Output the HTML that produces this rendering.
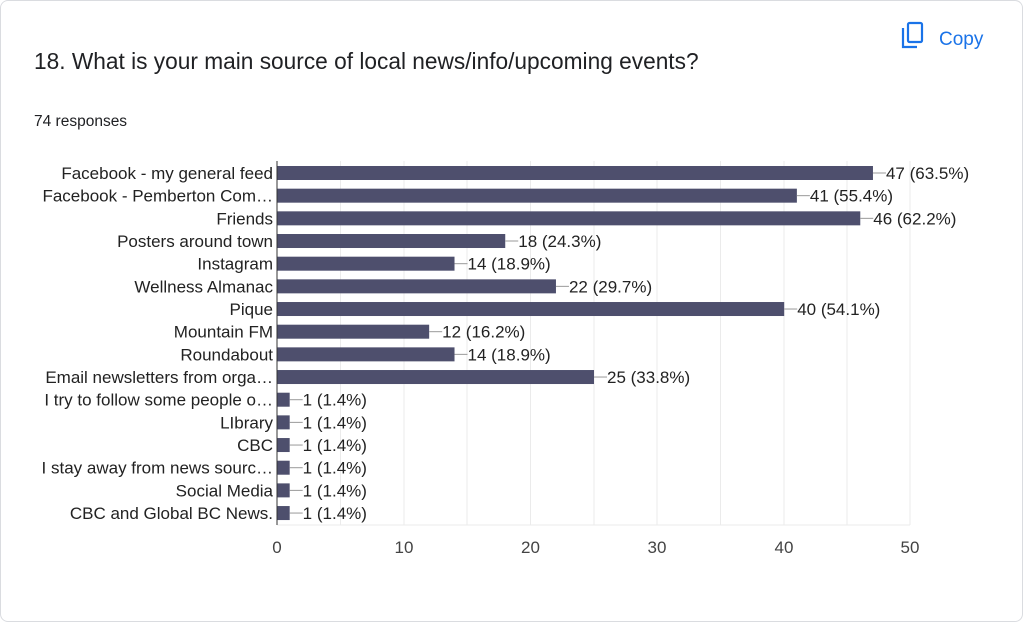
<!DOCTYPE html>
<html><head><style>
body{margin:0;width:1023px;height:609px;background:#fff;overflow:hidden;font-family:"Liberation Sans",Arial,sans-serif}
.card{position:absolute;left:0;top:0;width:1021px;height:620px;border:1px solid #dadce0;border-radius:8px;}
</style></head><body>
<div class="card"></div>
<svg width="1023" height="609" style="position:absolute;left:0;top:0" font-family="Liberation Sans, Arial, sans-serif">
<g fill="none" stroke="#1a73e8" stroke-width="2.2">
<rect x="908" y="23" width="14" height="19" rx="1.5"/>
<path d="M903 28 v19 h14"/>
</g>
<text x="939" y="45" font-size="19" fill="#1a73e8">Copy</text>
<text x="34" y="69" font-size="22.7" fill="#202124">18. What is your main source of local news/info/upcoming events?</text>
<text x="34" y="126" font-size="15.5" fill="#202124">74 responses</text>
<g stroke="#ebebeb" stroke-width="1">
<line x1="340.5" y1="161" x2="340.5" y2="525"/><line x1="404" y1="161" x2="404" y2="525"/>
<line x1="467" y1="161" x2="467" y2="525"/><line x1="530.5" y1="161" x2="530.5" y2="525"/>
<line x1="594" y1="161" x2="594" y2="525"/><line x1="657" y1="161" x2="657" y2="525"/>
<line x1="720.5" y1="161" x2="720.5" y2="525"/><line x1="784" y1="161" x2="784" y2="525"/>
<line x1="847" y1="161" x2="847" y2="525"/><line x1="910" y1="161" x2="910" y2="525"/>
<line x1="277" y1="525" x2="910" y2="525"/>
</g>
<g id="bars"></g>
<line x1="277" y1="161" x2="277" y2="525" stroke="#333" stroke-width="1"/>
<g font-size="17" fill="#444" text-anchor="middle">
<text x="277" y="553">0</text><text x="404" y="553">10</text><text x="530.5" y="553">20</text><text x="657" y="553">30</text><text x="784" y="553">40</text><text x="910" y="553">50</text>
</g>
</svg>
<script>
var d=[["Facebook - my general feed",47,"63.5"],["Facebook - Pemberton Com…",41,"55.4"],["Friends",46,"62.2"],["Posters around town",18,"24.3"],["Instagram",14,"18.9"],["Wellness Almanac",22,"29.7"],["Pique",40,"54.1"],["Mountain FM",12,"16.2"],["Roundabout",14,"18.9"],["Email newsletters from orga…",25,"33.8"],["I try to follow some people o…",1,"1.4"],["LIbrary",1,"1.4"],["CBC",1,"1.4"],["I stay away from news sourc…",1,"1.4"],["Social Media",1,"1.4"],["CBC and Global BC News.",1,"1.4"]];
var s="";
d.forEach(function(r,i){var c=173+i*22.67,w=r[1]*12.68,e=277+w;
s+='<rect x="277" y="'+(c-7)+'" width="'+w+'" height="14" fill="#4e4f6d"/>';
s+='<line x1="'+e+'" y1="'+c+'" x2="'+(e+13)+'" y2="'+c+'" stroke="#999" stroke-width="1"/>';
s+='<text x="'+(e+13)+'" y="'+(c+6)+'" font-size="17" fill="#222">'+r[1]+' ('+r[2]+'%)</text>';
s+='<text x="273" y="'+(c+6)+'" font-size="17" fill="#222" text-anchor="end">'+r[0]+'</text>';});
document.getElementById("bars").innerHTML=s;
</script>
</body></html>
